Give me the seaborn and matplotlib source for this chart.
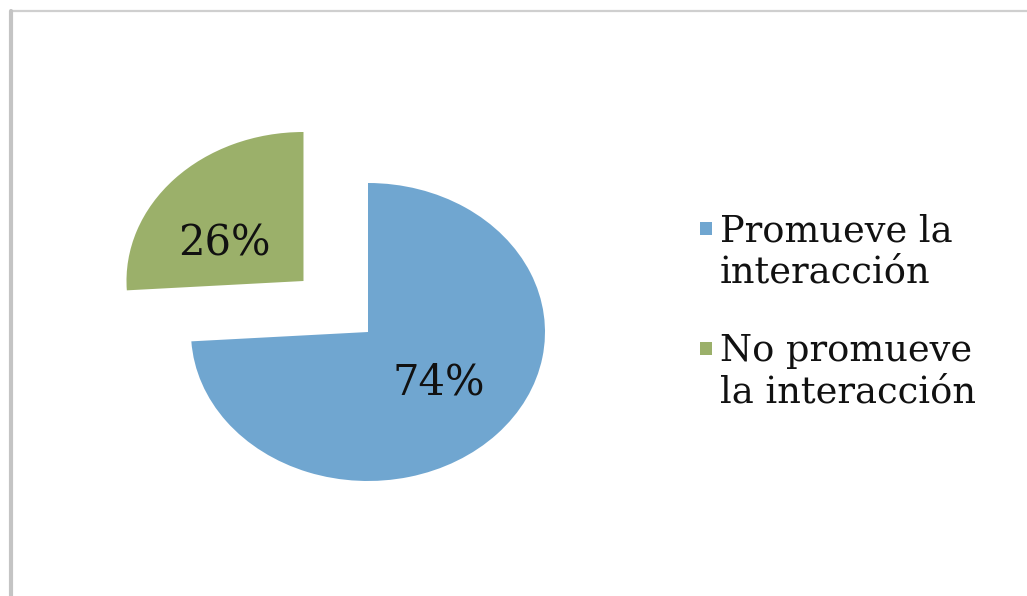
import matplotlib
matplotlib.use("Agg")
import numpy as np
import matplotlib.pyplot as plt
import seaborn as sns
from matplotlib.patches import Rectangle
from matplotlib.lines import Line2D

# ---- data ----
categories = ["Promueve la\ninteracción", "No promueve\nla interacción"]
values = [74, 26]
colors = ["#70A6D0", "#9BB06A"]
explode = [0.0, 0.5]

sns.set_theme(style="white")
plt.rcParams["font.family"] = ["DejaVu Serif"]

W, H = 1027, 596
fig = plt.figure(figsize=(W / 100, H / 100), dpi=100)
fig.patch.set_facecolor("white")

# axes covering whole figure, pie centred at pixel (368, 332), radii 177 x 149 px
ax = fig.add_axes([0, 0, 1, 1])
cx, cy, rx, ry = 368, 332, 177, 149
wedges, texts, autotexts = ax.pie(
    values, colors=colors, explode=explode, startangle=90, counterclock=False,
    autopct="%1.0f%%", pctdistance=0.55,
    textprops=dict(fontsize=30, color="#111111", family="DejaVu Serif"),
    wedgeprops=dict(linewidth=0),
)
# nudge label positions inside their wedges (angle shift, radius)
label_shift = [(3, 0.52), (14, 0.51)]
for w, t, (dth, r) in zip(wedges, autotexts, label_shift):
    mid = np.deg2rad((w.theta1 + w.theta2) / 2 + dth)
    t.set_position((w.center[0] + r * np.cos(mid), w.center[1] + r * np.sin(mid)))
ax.set_aspect("auto")
ax.set_xlim((0 - cx) / rx, (W - cx) / rx)
ax.set_ylim((cy - H) / ry, (cy - 0) / ry)
ax.axis("off")

# manual legend
top_px = [213, 333]
for lab, col, t in zip(categories, colors, top_px):
    fig.patches.append(Rectangle(((700) / W, 1 - (t + 22) / H), 12 / W, 13 / H,
                                 transform=fig.transFigure, facecolor=col,
                                 edgecolor="none"))
    fig.text(720 / W, 1 - t / H, lab, ha="left", va="top", fontsize=26.5,
             color="#111111", linespacing=1.2, family="DejaVu Serif")

# frame lines (top and left)
fig.add_artist(Line2D([11 / W, 1], [1 - 11 / H, 1 - 11 / H], transform=fig.transFigure,
                      color="#cfcfcf", linewidth=1.6))
fig.add_artist(Line2D([11 / W, 11 / W], [0, 1 - 11 / H], transform=fig.transFigure,
                      color="#c4c4c4", linewidth=3.0))

fig.savefig("out.png", dpi=100, facecolor="white")
